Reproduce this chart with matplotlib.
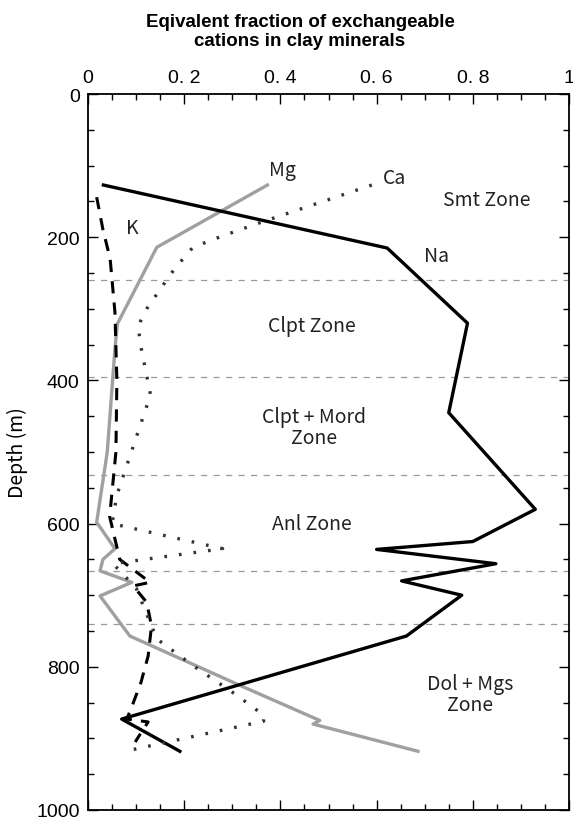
import matplotlib.pyplot as plt
from matplotlib.ticker import MultipleLocator

# depth (m) and equivalent fraction for each cation
na_depth = [127, 215, 320, 445, 580, 625, 636, 656, 680, 700, 757, 873, 918]
na_frac = [0.032, 0.622, 0.789, 0.75, 0.93, 0.80, 0.60, 0.848, 0.652, 0.777, 0.662, 0.070, 0.191]

ca_depth = [127, 179, 198, 214, 244, 263, 300, 324, 353, 420, 560, 600, 635, 656, 690, 761, 800, 840, 868, 876, 918]
ca_frac = [0.59, 0.36, 0.28, 0.218, 0.18, 0.16, 0.122, 0.104, 0.11, 0.13, 0.06, 0.05, 0.28, 0.052, 0.10, 0.143, 0.222, 0.31, 0.366, 0.365, 0.077]

k_depth = [144, 189, 230, 305, 400, 500, 590, 650, 682, 687, 710, 743, 785, 822, 863, 873, 877, 905]
k_frac = [0.018, 0.031, 0.046, 0.056, 0.06, 0.058, 0.045, 0.066, 0.129, 0.094, 0.122, 0.132, 0.125, 0.11, 0.087, 0.08, 0.125, 0.098]

mg_depth = [127, 214, 321, 356, 500, 598, 635, 650, 666, 682, 701, 757, 826, 875, 880, 918]
mg_frac = [0.373, 0.143, 0.061, 0.056, 0.04, 0.018, 0.056, 0.031, 0.025, 0.091, 0.025, 0.087, 0.316, 0.482, 0.468, 0.686]

zone_bounds = [260, 395, 532, 666, 740]

fig = plt.figure(figsize=(5.73, 8.20), dpi=100)
ax = fig.add_axes([0.1536, 0.011, 0.8394, 0.873])

for d in zone_bounds:
    ax.axhline(d, color="#9a9a9a", lw=0.9, ls=(0, (5, 5)), zorder=1)

ax.plot(na_frac, na_depth, color="black", lw=2.4, zorder=3)
ax.plot(mg_frac, mg_depth, color="#a0a0a0", lw=2.4, zorder=2)
ax.plot(k_frac, k_depth, color="black", lw=2.2, ls=(0, (4, 3)), zorder=3)
ax.plot(ca_frac, ca_depth, color="#333333", lw=2.4, ls=(0, (0.8, 3.6)), zorder=3)

lab = dict(fontsize=14, family="Noto Sans CJK JP", color="#222222")
ax.text(0.405, 105, "Mg", ha="center", va="center", **lab)
ax.text(0.638, 116, "Ca", ha="center", va="center", **lab)
ax.text(0.092, 186, "K", ha="center", va="center", **lab)
ax.text(0.725, 226, "Na", ha="center", va="center", **lab)
ax.text(0.83, 147, "Smt Zone", ha="center", va="center", **lab)
ax.text(0.465, 323, "Clpt Zone", ha="center", va="center", **lab)
ax.text(0.47, 465, "Clpt + Mord\nZone", ha="center", va="center", linespacing=1.0, **lab)
ax.text(0.465, 600, "Anl Zone", ha="center", va="center", **lab)
ax.text(0.795, 838, "Dol + Mgs\nZone", ha="center", va="center", linespacing=1.0, **lab)

ax.set_xlim(0, 1)
ax.set_ylim(1000, 0)
ax.xaxis.tick_top()
ax.xaxis.set_major_locator(MultipleLocator(0.2))
ax.xaxis.set_minor_locator(MultipleLocator(0.05))
ax.yaxis.set_major_locator(MultipleLocator(200))
ax.yaxis.set_minor_locator(MultipleLocator(50))
ax.set_xticks([0, 0.2, 0.4, 0.6, 0.8, 1.0])
ax.set_xticklabels(["0", "0. 2", "0. 4", "0. 6", "0. 8", "1"])
ax.tick_params(which="both", direction="in", top=True, bottom=True, left=True, right=True,
               width=1.0, labelsize=14, pad=6)
ax.tick_params(which="major", length=7)
ax.tick_params(which="minor", length=4)
ax.tick_params(axis="x", which="both", labelbottom=False)
ax.tick_params(axis="y", which="both", labelright=False)
for lbl in ax.get_xticklabels() + ax.get_yticklabels():
    lbl.set_family("Liberation Sans")
for s in ax.spines.values():
    s.set_linewidth(1.3)

fig.text(300 / 573, 1 - 32 / 820, "Eqivalent fraction of exchangeable\ncations in clay minerals",
         ha="center", va="center", fontsize=13.5, fontweight="bold",
         family="Liberation Sans", linespacing=1.1)
ax.set_ylabel("Depth (m)", fontsize=14, family="Noto Sans CJK JP", labelpad=6)

fig.savefig("out.png", dpi=100)
